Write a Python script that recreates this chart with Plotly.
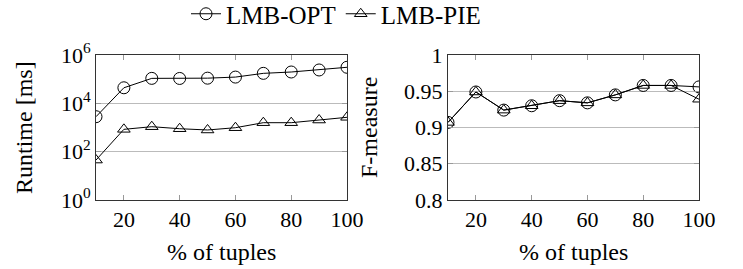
import plotly.graph_objects as go

# ---- data ----
pct_tuples = [10, 20, 30, 40, 50, 60, 70, 80, 90, 100]
runtime_opt = [2800, 44000, 108000, 107000, 110000, 122000, 174000, 198000, 240000, 310000]
runtime_pie = [45, 840, 1080, 890, 790, 980, 1580, 1580, 2040, 2640]
fmeasure_opt = [0.907, 0.949, 0.924, 0.930, 0.937, 0.934, 0.945, 0.958, 0.958, 0.956]
fmeasure_pie = [0.907, 0.949, 0.924, 0.930, 0.937, 0.934, 0.945, 0.958, 0.958, 0.939]
x_tickvals = [20, 40, 60, 80, 100]
runtime_tickvals = [1, 100, 10000, 1000000]
runtime_ticktext = ["10<sup>0</sup>", "10<sup>2</sup>", "10<sup>4</sup>", "10<sup>6</sup>"]
fm_tickvals = [0.8, 0.85, 0.9, 0.95, 1.0]
fm_ticktext = ["0.8", "0.85", "0.9", "0.95", "1"]
series_names = ["LMB-OPT", "LMB-PIE"]

FONT = "Liberation Serif"
FS_TICK = 22
FS_TEXT = 24
W, H = 743, 269

fig = go.Figure()

line_style = dict(color="black", width=1)
m_opt = dict(symbol="circle-open", size=12, color="black", line=dict(width=1, color="black"))
m_pie = dict(symbol="triangle-up-open", size=11, color="black", line=dict(width=1, color="black"))

fig.add_trace(go.Scatter(x=pct_tuples, y=runtime_opt, mode="lines+markers", name=series_names[0],
                         line=line_style, marker=m_opt, xaxis="x", yaxis="y"))
fig.add_trace(go.Scatter(x=pct_tuples, y=runtime_pie, mode="lines+markers", name=series_names[1],
                         line=line_style, marker=m_pie, xaxis="x", yaxis="y"))
fig.add_trace(go.Scatter(x=pct_tuples, y=fmeasure_opt, mode="lines+markers", name=series_names[0],
                         line=line_style, marker=m_opt, xaxis="x2", yaxis="y2", showlegend=False))
fig.add_trace(go.Scatter(x=pct_tuples, y=fmeasure_pie, mode="lines+markers", name=series_names[1],
                         line=line_style, marker=m_pie, xaxis="x2", yaxis="y2", showlegend=False))

ydom = [(H - 200) / H, (H - 55) / H]
tfont = dict(family=FONT, size=FS_TICK, color="black")

xcommon = dict(range=[10, 100], tickvals=x_tickvals, ticks="inside", ticklen=5, tickcolor="#999999",
               showline=True, linecolor="#333333", linewidth=1, mirror="ticks", showgrid=False,
               zeroline=False, tickfont=tfont, automargin=False)
ycommon = dict(ticks="inside", ticklen=5, tickcolor="#999999",
               showline=True, linecolor="#333333", linewidth=1, mirror="ticks",
               showgrid=True, gridcolor="#bbbbbb", gridwidth=1, zeroline=False,
               tickfont=tfont, automargin=False)

fig.update_layout(
    width=W, height=H, autosize=False,
    margin=dict(l=0, r=0, t=0, b=0, autoexpand=False),
    paper_bgcolor="white", plot_bgcolor="white",
    font=dict(family=FONT, size=FS_TEXT, color="black"),
    xaxis=dict(domain=[96 / W, 347 / W], anchor="y", **xcommon),
    xaxis2=dict(domain=[448 / W, 699 / W], anchor="y2", **xcommon),
    yaxis=dict(domain=ydom, anchor="x", type="log", range=[0, 6],
               tickvals=runtime_tickvals, ticktext=runtime_ticktext, **ycommon),
    yaxis2=dict(domain=ydom, anchor="x2", range=[0.8, 1.0],
                tickvals=fm_tickvals, ticktext=fm_ticktext, **ycommon),
    legend=dict(orientation="h", xref="container", yref="container",
                x=336 / W, xanchor="center", y=1 - 14 / H, yanchor="middle",
                font=dict(family=FONT, size=25, color="black"), bgcolor="rgba(0,0,0,0)",
                itemwidth=30, tracegroupgap=0),
    showlegend=True,
)

annots = [
    dict(text="Runtime [ms]", x=24 / W, y=(H - 128) / H, textangle=-90),
    dict(text="F-measure", x=369 / W, y=(H - 128) / H, textangle=-90),
    dict(text="% of tuples", x=221.5 / W, y=(H - 252) / H, textangle=0),
    dict(text="% of tuples", x=573.5 / W, y=(H - 252) / H, textangle=0),
]
for a in annots:
    fig.add_annotation(xref="paper", yref="paper", showarrow=False, xanchor="center", yanchor="middle",
                       font=dict(family=FONT, size=FS_TEXT, color="black"), **a)

fig.write_html("out.html", include_plotlyjs=True, config={"displayModeBar": False},
               post_script="document.body.style.margin='0';document.body.style.padding='0';")
